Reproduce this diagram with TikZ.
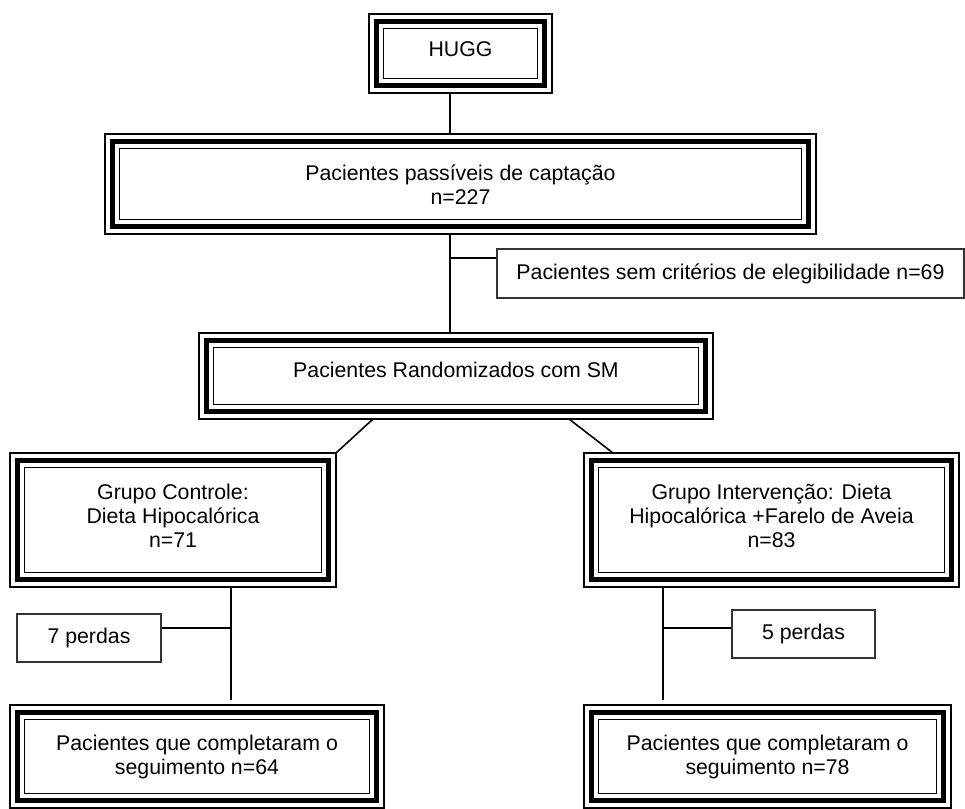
\documentclass[tikz,border=0pt]{standalone}
\usepackage{fontspec}
\setmainfont{Liberation Sans}
\usetikzlibrary{positioning}

\tikzset{
  caixa/.style={rectangle, inner sep=0pt, outer sep=0pt},
  caixafina/.style={draw=black!80, line width=1.3pt, inner sep=0pt, align=center},
  texto/.style={inner sep=0pt, align=center},
  liga/.style={draw, line width=1.6pt},
}

\begin{document}
\begin{tikzpicture}[x=1pt,y=-1pt,font=\fontsize{21.3}{24}\selectfont,node distance=30pt]
\useasboundingbox (0,0) rectangle (965,808);

% caixas com moldura tripla
\node[caixa, minimum width=183pt, minimum height=79pt]  (hugg)      at (460.5,53.5) {};
\node[caixa, minimum width=711pt, minimum height=100pt] (capt)      at (460.5,184) {};
\node[caixa, minimum width=514pt, minimum height=86pt]  (rand)      at (456,376) {};
\node[caixa, minimum width=326pt, minimum height=134pt] (ctrl)      at (173,520) {};
\node[caixa, minimum width=375pt, minimum height=134pt] (interv)    at (771.5,520) {};
\node[caixa, minimum width=374pt, minimum height=103pt] (fimctrl)   at (197,756.5) {};
\node[caixa, minimum width=367pt, minimum height=103pt] (fiminterv) at (767.5,756.5) {};

\foreach \b in {hugg,capt,rand,ctrl,interv,fimctrl,fiminterv}{
  \draw[line width=1.2pt] (\b.north west) rectangle (\b.south east);
  \draw[line width=5pt] ([shift={(7.5,7.5)}]\b.north west) rectangle ([shift={(-7.5,-7.5)}]\b.south east);
  \draw[line width=1.6pt] ([shift={(14.5,14.5)}]\b.north west) rectangle ([shift={(-14.5,-14.5)}]\b.south east);
}

% textos
\node[texto, below=27pt of hugg.north]      (hugg-t)      {HUGG};
\node[texto, below=31pt of capt.north]      (capt-t)      {Pacientes passíveis de captação\\n=227};
\node[texto, below=29pt of rand.north]      (rand-t)      {Pacientes Randomizados com SM};
\node[texto, below=31pt of ctrl.north]      (ctrl-t)      {Grupo Controle:\\Dieta Hipocalórica\\n=71};
\node[texto, below=31pt of interv.north]    (interv-t)    {Grupo Intervenção: Dieta\\Hipocalórica +Farelo de Aveia\\n=83};
\node[texto, below=30pt of fimctrl.north]   (fimctrl-t)   {Pacientes que completaram o\\seguimento n=64};
\node[texto, below=30pt of fiminterv.north] (fiminterv-t) {Pacientes que completaram o\\seguimento n=78};

% caixas simples
\node[caixafina, minimum width=467pt, minimum height=49pt] (excl)   at (730.5,273.5) {Pacientes sem critérios de elegibilidade n=69};
\node[caixafina, minimum width=144pt, minimum height=48pt] (perda7) at (89,638) {7 perdas};
\node[caixafina, minimum width=143pt, minimum height=48pt] (perda5) at (803.5,634) {5 perdas};

% ligacoes
\coordinate (tronco) at (450,258);
\coordinate (ramo7) at (231,628);
\coordinate (ramo5) at (663,628);
\draw[liga] (hugg.south -| tronco) -- (capt.north -| tronco);
\draw[liga] (capt.south -| tronco) -- (rand.north -| tronco);
\draw[liga] (tronco) -- (tronco -| excl.west);
\draw[liga] (373,0 |- rand.south) -- (ctrl.north east);
\draw[liga] (569,0 |- rand.south) -- (613,0 |- interv.north);
\draw[liga, shorten >=5pt] (ctrl.south -| ramo7) -- (fimctrl.north -| ramo7);
\draw[liga] (ramo7) -- (ramo7 -| perda7.east);
\draw[liga, shorten >=5pt] (interv.south -| ramo5) -- (fiminterv.north -| ramo5);
\draw[liga] (ramo5) -- (ramo5 -| perda5.west);
\end{tikzpicture}
\end{document}
